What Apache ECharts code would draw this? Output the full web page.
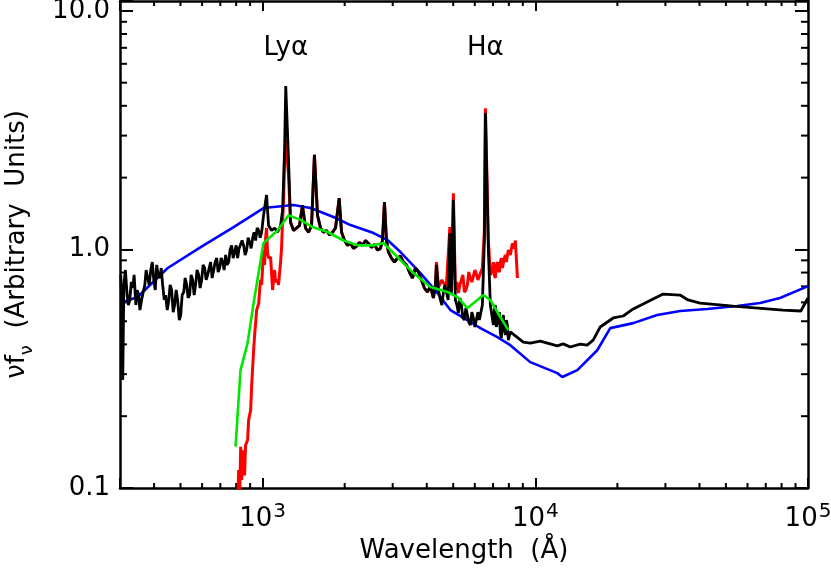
<!DOCTYPE html>
<html>
<head>
<meta charset="utf-8">
<script src="https://cdn.jsdelivr.net/npm/echarts@6.0.0/dist/echarts.min.js"></script>
<style>
  html, body { margin: 0; padding: 0; background: #fff; }
  #sed { width: 831px; height: 573px; }
</style>
</head>
<body>
<div id="sed"></div>
<script>
// wavelength (A), nu f_nu (arbitrary units)
var blackSpec = [[302,0.782],[304,0.614],[307,0.284],[310,0.710],[314,0.820],[318,0.663],[322,0.585],[326,0.614],
  [330,0.731],[334,0.689],[338,0.782],[343,0.585],[347,0.676],[351,0.644],[355,0.557],[360,0.614],[365,0.663],
  [370,0.710],[374,0.820],[379,0.759],[384,0.710],[389,0.820],[394,0.885],[399,0.745],[404,0.676],[409,0.861],
  [414,0.782],[420,0.759],[425,0.836],[430,0.710],[436,0.614],[441,0.644],[447,0.557],[453,0.614],[458,0.710],
  [464,0.676],[470,0.546],[476,0.585],[482,0.676],[488,0.614],[495,0.506],[501,0.531],[507,0.644],[514,0.663],
  [520,0.759],[527,0.710],[533,0.626],[540,0.644],[547,0.782],[554,0.745],[561,0.644],[568,0.710],[575,0.820],
  [583,0.782],[590,0.689],[598,0.745],[605,0.861],[613,0.836],[621,0.745],[629,0.782],[637,0.836],[645,0.885],
  [653,0.759],[662,0.820],[670,0.885],[679,0.920],[687,0.804],[696,0.836],[705,0.920],[714,0.885],[723,0.820],
  [732,0.948],[741,0.861],[751,0.885],[760,0.994],[770,1.04],[780,0.920],[790,0.975],[800,1.04],[810,0.920],
  [820,1.01],[831,0.994],[841,1.09],[852,1.04],[863,0.948],[874,0.994],[885,1.12],[897,1.07],[908,1.01],
  [920,1.12],[931,1.18],[943,1.09],[955,1.23],[968,1.20],[980,1.12],[992,1.18],[1008,1.39],[1034,1.69],
  [1052,1.26],[1079,1.20],[1107,1.23],[1135,1.18],[1164,1.26],[1184,1.46],[1204,2.61],[1216,4.84],[1245,2.37],
  [1266,1.30],[1299,1.20],[1332,1.23],[1366,1.26],[1400,1.53],[1437,1.23],[1474,1.18],[1512,1.26],[1549,2.49],
  [1590,1.39],[1631,1.23],[1673,1.18],[1716,1.20],[1760,1.15],[1805,1.18],[1851,1.23],[1909,1.64],[1948,1.18],
  [1998,1.09],[2049,1.04],[2101,1.06],[2154,1.01],[2210,1.03],[2266,1.07],[2324,1.04],[2384,1.09],[2445,1.06],
  [2507,1.02],[2572,1.05],[2637,0.994],[2705,1.01],[2751,1.09],[2798,1.58],[2846,1.09],[2894,0.975],[2969,0.920],
  [3045,0.885],[3123,0.920],[3203,0.938],[3285,0.885],[3369,0.861],[3455,0.804],[3544,0.759],[3635,0.836],
  [3728,0.804],[3823,0.745],[3921,0.689],[4021,0.663],[4125,0.702],[4230,0.626],[4303,0.710],[4340,0.861],
  [4414,0.676],[4450,0.689],[4489,0.614],[4545,0.585],[4604,0.663],[4660,0.710],[4722,0.663],[4790,0.614],
  [4861,1.17],[4925,0.657],[5007,1.61],[5093,0.614],[5160,0.585],[5224,0.541],[5290,0.626],[5358,0.585],
  [5425,0.516],[5495,0.506],[5565,0.568],[5636,0.531],[5705,0.496],[5780,0.482],[5855,0.546],[5929,0.516],
  [6005,0.473],[6081,0.468],[6160,0.546],[6236,0.506],[6396,0.585],[6505,1.09],[6563,3.73],[6729,0.994],
  [6842,0.585],[6959,0.516],[7018,0.482],[7077,0.557],[7137,0.585],[7198,0.473],[7260,0.468],[7321,0.516],
  [7383,0.546],[7445,0.446],[7508,0.425],[7572,0.496],[7636,0.531],[7701,0.459],[7766,0.438],[7832,0.506],
  [7898,0.482],[7965,0.417],[8100,0.451]];

var blackIR = [[9036,0.409],[9585,0.405],[10428,0.413],[12040,0.394],[12660,0.402],[13430,0.390],[14612,0.401],
  [15490,0.397],[16300,0.417],[17298,0.473],[19310,0.516],[21010,0.526],[22860,0.563],[24860,0.590],[27040,0.620],
  [29430,0.650],[33967,0.644],[36310,0.614],[40209,0.596],[53130,0.579],[80910,0.557],[94110,0.552],[100000,0.626]];

var redUV = [[810,0.08],[817,0.119],[824,0.09],[831,0.149],[838,0.108],[845,0.137],[852,0.144],[859,0.113],
  [866,0.151],[881,0.159],[889,0.193],[904,0.212],[912,0.270],[927,0.378],[935,0.438],[943,0.491],[951,0.557],
  [968,0.596],[975,0.676],[984,0.745],[992,0.710],[1000,0.836],[1008,0.994],[1017,0.861],[1026,1.12],[1034,1.23],
  [1043,0.966],[1052,0.920],[1070,0.929],[1088,0.676],[1107,0.820],[1116,0.730],[1135,0.745],[1144,0.710],
  [1164,0.885],[1174,1.02],[1184,1.33],[1194,1.61],[1204,2.37],[1216,2.87],[1245,2.05]];

var redOpt = [[4303,0.710],[4340,0.885],[4414,0.696],[4489,0.696],[4545,0.745],[4604,0.723],[4722,0.710],
  [4861,1.24],[4925,0.676],[5007,1.72],[5093,0.676],[5160,0.730],[5224,0.657],[5290,0.710],[5358,0.745],
  [5425,0.782],[5495,0.663],[5565,0.676],[5636,0.710],[5705,0.804],[5780,0.759],[5855,0.730],[5929,0.723],
  [6005,0.820],[6081,0.789],[6160,0.745],[6236,0.745],[6396,0.836],[6505,1.20],[6563,3.91],[6729,1.09],
  [6842,0.782],[6959,0.820],[7018,0.885],[7077,0.782],[7137,0.759],[7198,0.861],[7260,0.885],[7321,0.820],
  [7383,0.804],[7445,0.885],[7508,0.920],[7572,0.836],[7636,0.836],[7701,0.920],[7766,0.948],[7832,0.885],
  [7898,0.885],[7965,0.994],[8100,0.948],[8240,1.06],[8378,1.01],[8450,1.09],[8555,1.07],[8600,0.759]];

var blueModel = [[302,0.596],[348,0.632],[449,0.836],[593,1.023],[783,1.241],[1008,1.491],[1300,1.535],
  [1500,1.491],[1820,1.367],[2101,1.265],[2551,1.171],[2871,1.095],[3203,0.975],[3792,0.796],[4375,0.657],
  [4883,0.557],[5637,0.506],[6288,0.468],[7262,0.429],[8097,0.397],[9585,0.337],[12040,0.303],[12560,0.292],
  [14260,0.312],[16870,0.378],[18830,0.468],[22860,0.491],[27990,0.531],[33967,0.552],[42660,0.563],
  [54950,0.579],[66700,0.596],[78957,0.626],[100000,0.702]];

var greenModel = [[796,0.149],[830,0.312],[881,0.405],[927,0.596],[1008,1.064],[1135,1.20],[1245,1.39],
  [1378,1.33],[1524,1.241],[1730,1.183],[1983,1.09],[2230,1.04],[2551,1.04],[2774,1.064],[3019,0.966],
  [3574,0.796],[4125,0.696],[4760,0.663],[5176,0.632],[5637,0.568],[6132,0.614],[6450,0.644],[6841,0.614],
  [7443,0.521],[7962,0.459]];

var lineNames = ['Lyα', 'Hα'];
var lineWaves = [1216, 6563];
var lineLabelLevel = 7;

var xMinor = [400,500,600,700,800,900,2000,3000,4000,5000,6000,7000,8000,9000,
  20000,30000,40000,50000,60000,70000,80000,90000];
var yMinor = [0.2,0.3,0.4,0.5,0.6,0.7,0.8,0.9,2,3,4,5,6,7,8,9];

var FONT = 'DejaVu Sans';

// red lies under black between the UV and optical pieces
var redMid = blackSpec.filter(function (p) { return p[0] >= 1266 && p[0] <= 4230; });
var redAll = redUV.concat(redMid, redOpt);
var blackAll = blackSpec.concat(blackIR);

function isDecade(v) {
  var e = Math.log10(v);
  return Math.abs(e - Math.round(e)) < 1e-3;
}

function minorTicks(horizontal) {
  return function (params, api) {
    var cs = params.coordSys;
    var st = { stroke: '#000', lineWidth: 2 };
    if (horizontal) {
      var px = api.coord([api.value(0), 1])[0];
      return { type: 'group', children: [
        { type: 'line', shape: { x1: px, y1: cs.y + cs.height, x2: px, y2: cs.y + cs.height - 5 }, style: st },
        { type: 'line', shape: { x1: px, y1: cs.y, x2: px, y2: cs.y + 5 }, style: st }
      ] };
    }
    var py = api.coord([1000, api.value(1)])[1];
    return { type: 'group', children: [
      { type: 'line', shape: { x1: cs.x, y1: py, x2: cs.x + 7, y2: py }, style: st },
      { type: 'line', shape: { x1: cs.x + cs.width, y1: py, x2: cs.x + cs.width - 7, y2: py }, style: st }
    ] };
  };
}

var axisLine = { show: true, lineStyle: { color: '#000', width: 2.5 } };

var chart = echarts.init(document.getElementById('sed'));
chart.setOption({
  animation: false,
  backgroundColor: '#fff',
  grid: { left: 120, right: 23, top: 1, bottom: 85, containLabel: false, outerBoundsMode: 'none' },
  xAxis: [{
    type: 'log', min: 300, max: 100000, position: 'bottom',
    axisLine: axisLine,
    axisTick: { inside: true, length: 10, lineStyle: { color: '#000', width: 2 } },
    splitLine: { show: false },
    axisLabel: {
      margin: 14,
      formatter: function (v) {
        if (!isDecade(v)) return '';
        return '{b|10}{s|' + Math.round(Math.log10(v)) + '}';
      },
      rich: {
        b: { fontSize: 26, fontFamily: FONT, color: '#000', lineHeight: 30, verticalAlign: 'bottom' },
        s: { fontSize: 20, fontFamily: FONT, color: '#000', verticalAlign: 'top', padding: [0, 0, 0, 1] }
      }
    },
    name: 'Wavelength  (Å)', nameLocation: 'middle', nameGap: 50,
    nameTextStyle: { fontSize: 26, fontFamily: FONT, color: '#000' }
  }, {
    type: 'log', min: 300, max: 100000, position: 'top',
    axisLine: axisLine,
    axisTick: { inside: true, length: 10, lineStyle: { color: '#000', width: 2 } },
    splitLine: { show: false },
    axisLabel: { show: false }
  }],
  yAxis: [{
    type: 'log', min: 0.1, max: 11, position: 'left',
    axisLine: axisLine,
    axisTick: { inside: true, length: 13, lineStyle: { color: '#000', width: 2 } },
    splitLine: { show: false },
    axisLabel: {
      margin: 10, fontSize: 26, fontFamily: FONT, color: '#000',
      formatter: function (v) { return isDecade(v) ? v.toFixed(1) : ''; }
    },
    name: '{n|νf}{u|ν}{n|  (Arbitrary  Units)}', nameLocation: 'middle', nameRotate: 90, nameGap: 84,
    nameTextStyle: {
      rich: {
        n: { fontSize: 26, fontFamily: FONT, color: '#000', lineHeight: 32, verticalAlign: 'top' },
        u: { fontSize: 18, fontFamily: FONT, color: '#000', verticalAlign: 'bottom' }
      }
    }
  }, {
    type: 'log', min: 0.1, max: 11, position: 'right',
    axisLine: axisLine,
    axisTick: { inside: true, length: 13, lineStyle: { color: '#000', width: 2 } },
    splitLine: { show: false },
    axisLabel: { show: false }
  }],
  series: [
    { name: 'red', type: 'line', data: redAll, showSymbol: false, symbol: 'none', clip: true,
      lineStyle: { color: '#ff0000', width: 3 } },
    { name: 'blue', type: 'line', data: blueModel, showSymbol: false, symbol: 'none', clip: true,
      lineStyle: { color: '#0000ff', width: 2.6 } },
    { name: 'black', type: 'line', data: blackAll, showSymbol: false, symbol: 'none', clip: true,
      lineStyle: { color: '#000', width: 2.8 } },
    { name: 'green', type: 'line', data: greenModel, showSymbol: false, symbol: 'none', clip: true,
      lineStyle: { color: '#00e600', width: 2.6 } },
    { name: 'lines', type: 'scatter', symbolSize: 0, itemStyle: { color: '#000' },
      data: lineNames.map(function (n, i) { return { name: n, value: [lineWaves[i], lineLabelLevel] }; }),
      label: { show: true, position: 'inside', formatter: '{b}', fontSize: 26, fontFamily: FONT,
        color: '#000', opacity: 1 } },
    { type: 'custom', silent: true, renderItem: minorTicks(true),
      data: xMinor.map(function (v) { return [v, 1]; }) },
    { type: 'custom', silent: true, renderItem: minorTicks(false),
      data: yMinor.map(function (v) { return [1000, v]; }) }
  ]
});
</script>
</body>
</html>
